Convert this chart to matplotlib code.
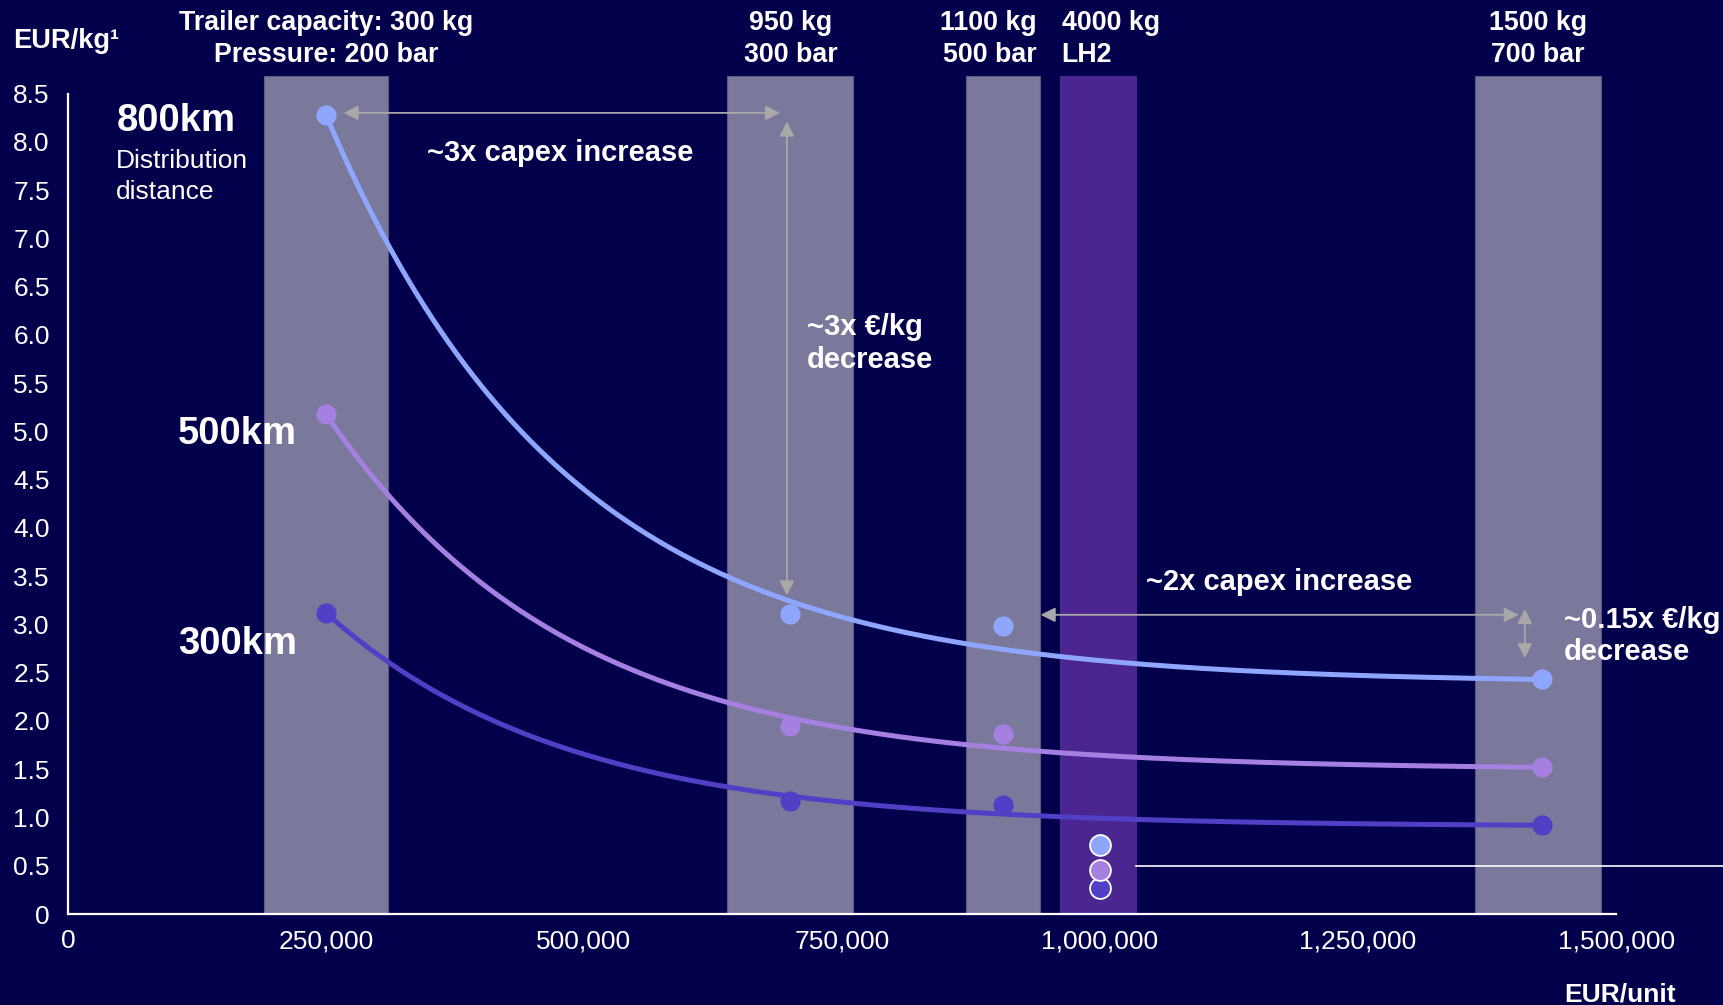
import numpy as np
import matplotlib.pyplot as plt

plt.rcParams['font.family'] = ['Liberation Sans', 'DejaVu Sans']

# Trailer options: price per unit (EUR) and their capacity / pressure labels
trailer_price = [250000, 700000, 906000, 998000, 1424000]
trailer_width = [121000, 122000, 72500, 74500, 122000]
trailer_top = ['Trailer capacity: 300 kg', '950 kg', '1100 kg', '4000 kg', '1500 kg']
trailer_bottom = ['Pressure: 200 bar', '300 bar', '500 bar', 'LH2', '700 bar']
trailer_is_lh2 = [False, False, False, True, False]

# Transport cost (EUR/kg) for compressed trailers by distribution distance
tube_price = [250000, 700000, 906000, 1428000]
cost_800km = [8.28, 3.11, 2.98, 2.43]
cost_500km = [5.18, 1.95, 1.87, 1.52]
cost_300km = [3.12, 1.17, 1.13, 0.92]

# Liquid hydrogen trailer
lh2_price = 1000000
lh2_cost = [0.72, 0.46, 0.27]   # 800km, 500km, 300km

colors = ['#8fa6ff', '#a580e0', '#5040c6']

BG = '#03004c'
BAR = '#7a799b'
LH2_BAR = '#4b2690'
ARROW = '#a8a8a8'


def exp_trend(x, y):
    """Decay curve c + a*exp(-k*(x - x0)) through the end points,
    with k chosen to fit the inner points best."""
    x = np.asarray(x, float) / 1e5
    y = np.asarray(y, float)
    dx = x - x[0]
    best = None
    for k in np.linspace(0.05, 2.0, 800):
        e_end = np.exp(-k * dx[-1])
        a = (y[0] - y[-1]) / (1 - e_end)
        c = y[0] - a
        err = np.sum((c + a * np.exp(-k * dx[1:-1]) - y[1:-1]) ** 2)
        if best is None or err < best[0]:
            best = (err, k, a, c)
    _, k, a, c = best
    xs = np.linspace(x[0], x[-1], 300)
    return xs * 1e5, c + a * np.exp(-k * (xs - x[0]))


fig = plt.figure(figsize=(17.24, 10.05), dpi=100, facecolor=BG)
ax = fig.add_axes([0.0394, 0.0905, 0.898, 0.8356], facecolor=BG)

# Trailer columns
for xc, w, lh2, t, b in zip(trailer_price, trailer_width, trailer_is_lh2,
                            trailer_top, trailer_bottom):
    ax.bar(xc, 8.68, width=w, color=LH2_BAR if lh2 else BAR,
           edgecolor='#5c5b82' if not lh2 else LH2_BAR, linewidth=0.8,
           zorder=1, clip_on=False)
    if t == '1100 kg':
        x_txt, ha = xc + w / 2 - 4000, 'right'
    elif lh2:
        x_txt, ha = xc - w / 2 + 2000, 'left'
    else:
        x_txt, ha = xc, 'center'
    ax.text(x_txt, 9.23, t, ha=ha, va='center', color='white',
            fontsize=19.3, fontweight='bold', clip_on=False)
    ax.text(x_txt, 8.90, b, ha=ha, va='center', color='white',
            fontsize=19.3, fontweight='bold', clip_on=False)

# Cost curves and points
for series, col in zip([cost_800km, cost_500km, cost_300km], colors):
    xs, ys = exp_trend(tube_price, series)
    ax.plot(xs, ys, color=col, lw=3.6, solid_capstyle='round', zorder=3)
    ax.plot(tube_price, series, 'o', color=col, markersize=14.5,
            markeredgewidth=0, zorder=4)

for val, col in zip(lh2_cost[::-1], colors[::-1]):
    ax.plot(lh2_price, val, 'o', color=col, markersize=15,
            markeredgecolor='white', markeredgewidth=1.3, zorder=5)

# Distance labels
ax.text(46900, 8.22, '800km', fontsize=27.5, fontweight='bold', color='white',
        va='center', ha='left')
ax.text(46900, 7.64, 'Distribution\ndistance', fontsize=19, color='white',
        va='center', ha='left', linespacing=1.36)
ax.text(106400, 4.97, '500km', fontsize=27.5, fontweight='bold', color='white',
        va='center', ha='left')
ax.text(106400, 2.80, '300km', fontsize=27.5, fontweight='bold', color='white',
        va='center', ha='left')

# Change annotations
arrow = dict(arrowstyle='<|-|>', color=ARROW, lw=1.3, mutation_scale=22,
             shrinkA=0, shrinkB=0)
ax.annotate('', xy=(267000, 8.30), xytext=(690000, 8.30), arrowprops=arrow)
ax.annotate('', xy=(696600, 8.21), xytext=(696600, 3.30), arrowprops=arrow)
ax.annotate('', xy=(942400, 3.10), xytext=(1405800, 3.10), arrowprops=arrow,
            annotation_clip=False)
ax.annotate('', xy=(1411600, 3.16), xytext=(1411600, 2.65), arrowprops=arrow,
            annotation_clip=False)

ax.text(348300, 7.88, '~3x capex increase', fontsize=21, fontweight='bold',
        color='white', va='center', ha='left')
ax.text(716000, 5.91, '~3x €/kg\ndecrease', fontsize=21, fontweight='bold',
        color='white', va='center', ha='left', linespacing=1.22)
ax.text(1044900, 3.44, '~2x capex increase', fontsize=21, fontweight='bold',
        color='white', va='center', ha='left')
ax.text(1449300, 2.88, '~0.15x €/kg\ndecrease', fontsize=21, fontweight='bold',
        color='white', va='center', ha='left', linespacing=1.22, clip_on=False)

# Leader line from the LH2 points
ax.plot([1035000, 1610000], [0.50, 0.50], color='white', lw=1.2,
        clip_on=False, zorder=2)

# Axes styling
ax.set_xlim(0, 1500000)
ax.set_ylim(0, 8.7)
for side in ['top', 'right']:
    ax.spines[side].set_visible(False)
for side in ['left', 'bottom']:
    ax.spines[side].set_color('white')
    ax.spines[side].set_linewidth(1.6)
    ax.spines[side].set_zorder(6)
ax.spines['left'].set_bounds(0, 8.5)

yticks = np.arange(0, 8.51, 0.5)
ax.set_yticks(yticks)
ax.set_yticklabels(['0' if v == 0 else f'{v:.1f}' for v in yticks])
xticks = [0, 250000, 500000, 750000, 1000000, 1250000, 1500000]
ax.set_xticks(xticks)
ax.set_xticklabels([f'{v:,}' for v in xticks])
ax.tick_params(axis='both', length=0, colors='white', labelsize=19)
ax.tick_params(axis='y', pad=13)
ax.tick_params(axis='x', pad=11)

fig.text(0.0075, 0.959, 'EUR/kg¹', fontsize=19.6, fontweight='bold',
         color='white', va='center', ha='left')
fig.text(0.9397, 0.010, 'EUR/unit', fontsize=19, fontweight='bold',
         color='white', va='center', ha='center')

fig.savefig('out.png', dpi=100, facecolor=BG)
